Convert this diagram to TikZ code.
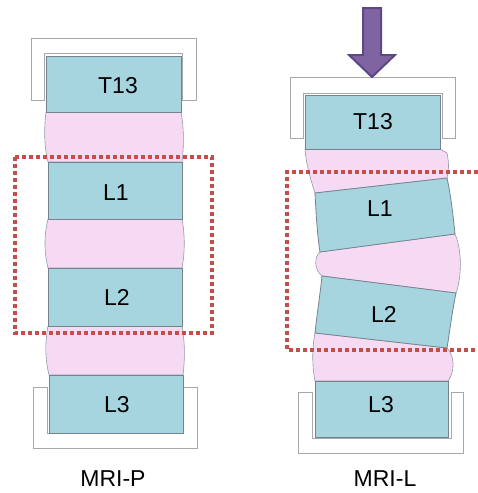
\documentclass[tikz,border=0pt]{standalone}
\usepackage{fontspec}
\setmainfont{Liberation Sans}
\definecolor{boneblue}{HTML}{A6D5E0}
\definecolor{discpink}{HTML}{F6DAF4}
\definecolor{edgegray}{HTML}{76838F}
\definecolor{capgray}{HTML}{A8A8A8}
\definecolor{roired}{HTML}{C44E4A}
\definecolor{loadpurple}{HTML}{8064A2}
\definecolor{loadedge}{HTML}{5E4785}
\tikzset{
	vert/.style={draw=edgegray, fill=boneblue, line width=0.8pt},
	disc/.style={draw=edgegray!80, fill=discpink, line width=0.6pt},
	endplate/.style={draw=capgray, fill=white, line width=1pt},
	roi/.style={draw=roired, line width=4pt, dash pattern=on 4pt off 3pt},
	lbl/.style={font=\fontsize{23}{27}\selectfont, inner sep=0pt}
}
\begin{document}
\begin{tikzpicture}[x=1pt, y=-1pt]
	\useasboundingbox (0,0) rectangle (478,493);
	
	% MRI-P: straight column
	\draw[endplate] (31,100) -- (31,38) -- (196,38) -- (196,100) -- (182,100) -- (182,53) -- (44,53) -- (44,100) -- cycle;
	\draw[endplate] (33,387) -- (33,448) -- (197,448) -- (197,387) -- (183,387) -- (183,433) -- (47,433) -- (47,387) -- cycle;
	
	\draw[disc] (46,112) -- (181,112) .. controls (184,128) and (184,146) .. (182,162) -- (48,162) .. controls (44,146) and (44,128) .. (46,112) -- cycle;
	\draw[disc] (48,219) -- (182,219) .. controls (185,235) and (185,252) .. (182,268) -- (48,268) .. controls (44,252) and (44,235) .. (48,219) -- cycle;
	\draw[disc] (48,326) -- (182,326) .. controls (185,342) and (185,359) .. (183,375) -- (49,375) .. controls (45,359) and (45,342) .. (48,326) -- cycle;
	
	\draw[vert] (46,56) rectangle (181,112);
	\draw[vert] (48,162) rectangle (182,219);
	\draw[vert] (48,268) rectangle (182,326);
	\draw[vert] (49,375) rectangle (183,433);
	
	\node[lbl] (pT13) at (118,86) {T13};
	\node[lbl] (pL1) at (116,193) {L1};
	\node[lbl] (pL2) at (117,297) {L2};
	\node[lbl] (pL3) at (117,405) {L3};
	
	\draw[roi] (15,157) rectangle (212,333);
	\node[lbl] (mriP) at (113,479) {MRI-P};
	
	% MRI-L: column under load
	\draw[endplate] (290,138) -- (290,77) -- (455,77) -- (455,138) -- (442,138) -- (442,93) -- (303,93) -- (303,138) -- cycle;
	\draw[endplate] (298,392) -- (298,453) -- (463,453) -- (463,392) -- (451,392) -- (451,438) -- (312,438) -- (312,392) -- cycle;
	
	\draw[disc] (305,149) -- (440,149) -- (447,153) .. controls (449,162) and (449,170) .. (447,178) -- (315,193) .. controls (310,178) and (306,163) .. (305,149) -- cycle;
	\draw[disc] (320,252) -- (455,234) .. controls (462,250) and (462,276) .. (456,293) -- (322,276) .. controls (314,270) and (314,257) .. (320,252) -- cycle;
	\draw[disc] (315,333) -- (447,348) .. controls (455,356) and (455,372) .. (448,381) -- (315,381) .. controls (312,366) and (312,348) .. (315,333) -- cycle;
	
	\draw[vert] (315,193) -- (447,178) .. controls (451,196) and (453,215) .. (455,234) -- (320,252) .. controls (317,233) and (316,212) .. (315,193) -- cycle;
	\draw[vert] (322,276) -- (456,293) .. controls (452,312) and (450,330) .. (447,348) -- (315,333) .. controls (317,314) and (320,295) .. (322,276) -- cycle;
	\draw[vert] (305,95) rectangle (440,149);
	\draw[vert] (315,381) rectangle (448,437);
	
	\node[lbl] (lT13) at (373,122) {T13};
	\node[lbl] (lL1) at (380,209) {L1};
	\node[lbl] (lL2) at (384,314) {L2};
	\node[lbl] (lL3) at (381,405) {L3};
	
	\draw[roi] (478,172) -- (287,172) -- (287,350) -- (478,350);
	\node[lbl] (mriL) at (385,479) {MRI-L};
	
	% load on T13
	\draw[draw=loadedge, fill=loadpurple, line width=2pt, line join=miter] (363,8) -- (381,8) -- (381,55) -- (395,55) -- (372,77) -- (349,55) -- (363,55) -- cycle;
\end{tikzpicture}
\end{document}
